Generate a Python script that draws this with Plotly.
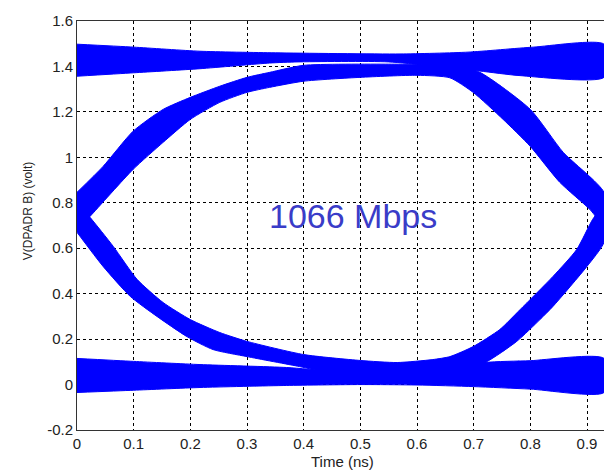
import plotly.graph_objects as go

# ---- data (time in ns, voltage in volt) ----
# high-level band (1 -> 1 transitions)
top_x = [0.0, 0.10, 0.217, 0.35, 0.57, 0.69, 0.805, 0.93]
top_upper = [1.498, 1.485, 1.467, 1.460, 1.455, 1.463, 1.485, 1.498]
top_lower_x = [0.0, 0.10, 0.217, 0.34, 0.39, 0.55, 0.71, 0.78, 0.93]
top_lower = [1.357, 1.372, 1.390, 1.415, 1.420, 1.420, 1.380, 1.360, 1.352]

# low-level band (0 -> 0 transitions)
bot_x = [0.0, 0.10, 0.217, 0.37, 0.50, 0.60, 0.70, 0.80, 0.93]
bot_lower = [-0.035, -0.025, -0.013, -0.004, 0.0, -0.002, -0.009, -0.020, -0.035]
bot_upper_x = [0.0, 0.10, 0.217, 0.37, 0.45, 0.65, 0.72, 0.80, 0.93]
bot_upper = [0.115, 0.102, 0.088, 0.075, 0.060, 0.060, 0.097, 0.105, 0.115]

# upper eye curve (rising from left crossing, falling into right crossing)
ueye_outer_x = [0.0, 0.046, 0.099, 0.152, 0.20, 0.252, 0.30, 0.34, 0.40, 0.55, 0.66, 0.711, 0.80, 0.858, 0.93]
ueye_outer = [0.846, 0.960, 1.115, 1.211, 1.264, 1.313, 1.352, 1.374, 1.405, 1.41, 1.405, 1.374, 1.211, 1.022, 0.846]
ueye_inner_x = [0.0, 0.023, 0.099, 0.152, 0.20, 0.252, 0.30, 0.34, 0.40, 0.50, 0.60, 0.658, 0.699, 0.752, 0.80, 0.852, 0.905, 0.93]
ueye_inner = [0.680, 0.740, 0.947, 1.066, 1.167, 1.242, 1.286, 1.308, 1.335, 1.352, 1.361, 1.350, 1.286, 1.167, 1.048, 0.890, 0.771, 0.700]

# lower eye curve (falling from left crossing, rising into right crossing)
leye_inner_x = [0.0, 0.023, 0.064, 0.106, 0.152, 0.20, 0.252, 0.30, 0.40, 0.50, 0.565, 0.628, 0.658, 0.699, 0.746, 0.782, 0.84, 0.882, 0.91, 0.93]
leye_inner = [0.800, 0.736, 0.608, 0.463, 0.361, 0.286, 0.229, 0.190, 0.132, 0.106, 0.097, 0.110, 0.123, 0.167, 0.242, 0.330, 0.476, 0.595, 0.727, 0.790]
leye_outer_x = [0.0, 0.046, 0.094, 0.141, 0.194, 0.24, 0.30, 0.393, 0.45, 0.65, 0.72, 0.776, 0.817, 0.84, 0.90, 0.93]
leye_outer = [0.670, 0.520, 0.388, 0.300, 0.211, 0.154, 0.123, 0.079, 0.050, 0.050, 0.097, 0.190, 0.286, 0.344, 0.520, 0.626]

x_ticks = [0, 0.1, 0.2, 0.3, 0.4, 0.5, 0.6, 0.7, 0.8, 0.9]
x_tick_text = ["0", "0.1", "0.2", "0.3", "0.4", "0.5", "0.6", "0.7", "0.8", "0.9"]
y_ticks = [-0.2, 0, 0.2, 0.4, 0.6, 0.8, 1.0, 1.2, 1.4, 1.6]
y_tick_text = ["-0.2", "0", "0.2", "0.4", "0.6", "0.8", "1", "1.2", "1.4", "1.6"]

label_text = "1066 Mbps"
x_title = "Time (ns)"
y_title = "V(DPADR B) (volt)"

BLUE = "#0000FF"


def band(xa, ya, xb, yb):
    return list(xa) + list(reversed(xb)), list(ya) + list(reversed(yb))


fig = go.Figure()
for xa, ya, xb, yb in [
    (top_x, top_upper, top_lower_x, top_lower),
    (bot_x, bot_lower, bot_upper_x, bot_upper),
    (ueye_outer_x, ueye_outer, ueye_inner_x, ueye_inner),
    (leye_inner_x, leye_inner, leye_outer_x, leye_outer),
]:
    px, py = band(xa, ya, xb, yb)
    fig.add_trace(go.Scatter(x=px, y=py, mode="lines", fill="toself",
                             fillcolor=BLUE,
                             line=dict(color=BLUE, width=1, shape="spline", smoothing=0.6),
                             hoverinfo="skip", showlegend=False))

FONT = "Liberation Sans, Arial, sans-serif"

fig.add_annotation(x=0.487, y=0.744, xref="x", yref="y", text=label_text,
                   showarrow=False, font=dict(family=FONT, size=34, color="#3a3cc8"))
fig.add_annotation(x=0.503, y=-0.076, xref="paper", yref="paper", text=x_title,
                   showarrow=False, xanchor="center", yanchor="middle",
                   font=dict(family=FONT, size=15, color="#222222"))
fig.add_annotation(x=-0.093, y=0.535, xref="paper", yref="paper", text=y_title,
                   showarrow=False, textangle=-90, xanchor="center", yanchor="middle",
                   font=dict(family=FONT, size=12, color="#222222"))

axis_common = dict(showgrid=True, gridcolor="#000000", gridwidth=1, griddash="3px,3px",
                   zeroline=False, showline=True, linecolor="#333333", linewidth=1,
                   ticks="", automargin=False,
                   tickfont=dict(family=FONT, size=15, color="#222222"))

fig.update_xaxes(range=[0, 0.93], tickvals=x_ticks, ticktext=x_tick_text,
                 mirror=True, **axis_common)
fig.update_yaxes(range=[-0.2, 1.6], tickvals=y_ticks, ticktext=y_tick_text,
                 mirror=False, **axis_common)

fig.update_layout(width=604, height=471, margin=dict(l=77, r=0, t=21, b=41),
                  plot_bgcolor="white", paper_bgcolor="white",
                  font=dict(family=FONT))

fig.write_html("out.html", config={"displayModeBar": False},
               post_script="document.body.style.margin='0';document.body.style.overflow='hidden';")
